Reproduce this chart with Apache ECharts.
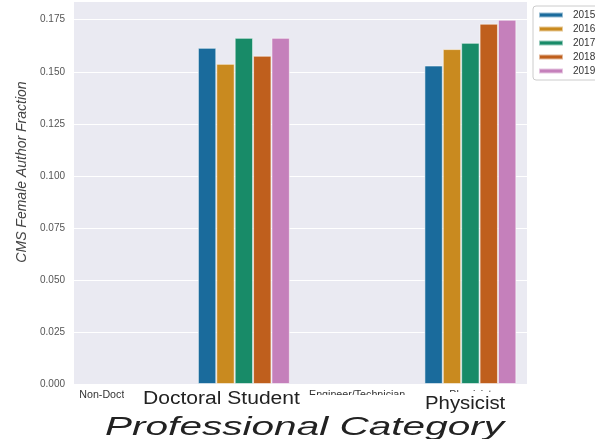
<!DOCTYPE html>
<html>
<head>
<meta charset="utf-8">
<script src="https://cdn.jsdelivr.net/npm/echarts@6/dist/echarts.min.js"></script>
<style>
  html, body { margin: 0; padding: 0; background: #fff; }
  #chart { width: 595px; height: 439px; }
</style>
</head>
<body>
<div id="chart"></div>
<script>
// Chart data
const categories = ['Non-Doctoral Student', 'Doctoral Student', 'Engineer/Technician', 'Physicist'];
const years = ['2015', '2016', '2017', '2018', '2019'];
const fraction2015 = [null, 0.1615, null, 0.1530];
const fraction2016 = [null, 0.1538, null, 0.1609];
const fraction2017 = [null, 0.1663, null, 0.1639];
const fraction2018 = [null, 0.1577, null, 0.1731];
const fraction2019 = [null, 0.1663, null, 0.1750];
const yTicks = [0, 0.025, 0.05, 0.075, 0.1, 0.125, 0.15, 0.175];
const yTitle = 'CMS Female Author Fraction';
const xTitle = 'Professional Category';

const colors = ['#1a6b9c', '#c98a1f', '#188b68', '#bf5f1d', '#c580bb'];
const seriesValues = [fraction2015, fraction2016, fraction2017, fraction2018, fraction2019];
const font = 'Liberation Sans, Arial, sans-serif';

const chart = echarts.init(document.getElementById('chart'));

const option = {
    animation: false,
    color: colors,
    grid: {
        left: 74,
        right: 68,
        top: 1,
        bottom: 55,
        show: true,
        backgroundColor: '#eaeaf2',
        borderWidth: 0
    },
    legend: {
        orient: 'vertical',
        left: 533,
        top: 6,
        padding: [4, 6, 4, 5],
        itemWidth: 24,
        itemHeight: 5,
        itemGap: 4,
        icon: 'rect',
        backgroundColor: '#fff',
        borderColor: '#cccccc',
        borderWidth: 1,
        borderRadius: 3,
        textStyle: { fontFamily: font, fontSize: 10, color: '#333', padding: [0, 0, 0, 5] },
        data: years
    },
    xAxis: {
        type: 'category',
        data: categories,
        axisLine: { show: false },
        axisTick: { show: false },
        axisLabel: { fontFamily: font, fontSize: 10.7, color: '#333', margin: 6, interval: 0 }
    },
    yAxis: {
        type: 'value',
        min: 0,
        max: 0.184,
        interval: 0.025,
        axisLine: { show: false },
        axisTick: { show: false },
        splitLine: { lineStyle: { color: '#ffffff', width: 1 } },
        axisLabel: {
            fontFamily: font,
            fontSize: 10,
            color: '#555',
            margin: 9,
            showMaxLabel: false,
            formatter: v => yTicks.some(t => Math.abs(t - v) < 1e-9) ? v.toFixed(3) : ''
        }
    },
    series: years.map((y, i) => ({
        name: y,
        type: 'bar',
        data: seriesValues[i],
        barGap: '0%',
        barCategoryGap: '18.8%',
        itemStyle: { borderColor: 'rgba(255,255,255,0.55)', borderWidth: 1 }
    })),
    graphic: [
        // white patches that cover the overlapped small tick labels
        { type: 'rect', shape: { x: 124, y: 386, width: 176, height: 28 }, style: { fill: '#fff' }, z: 10 },
        { type: 'rect', shape: { x: 300, y: 395, width: 120, height: 20 }, style: { fill: '#fff' }, z: 10 },
        { type: 'rect', shape: { x: 420, y: 392, width: 105, height: 22 }, style: { fill: '#fff' }, z: 10 },
        {
            type: 'text', x: 143, y: 390, scaleX: 1.17, z: 11,
            style: { x: 0, y: 0, text: categories[1], fontFamily: font, fontSize: 18, fill: '#222', textVerticalAlign: 'top' }
        },
        {
            type: 'text', x: 425, y: 395, scaleX: 1.13, z: 11,
            style: { x: 0, y: 0, text: categories[3], fontFamily: font, fontSize: 18, fill: '#222', textVerticalAlign: 'top' }
        },
        {
            type: 'text', x: 105, y: 415, scaleX: 1.56, z: 11,
            style: { x: 0, y: 0, text: xTitle, fontFamily: font, fontSize: 26, fontStyle: 'italic', fill: '#222', textVerticalAlign: 'top' }
        },
        {
            type: 'text', x: 22, y: 172, rotation: Math.PI / 2, z: 11,
            style: { x: 0, y: 0, text: yTitle, fontFamily: font, fontSize: 14, fontStyle: 'italic', fill: '#444', textAlign: 'center', textVerticalAlign: 'middle' }
        }
    ]
};

chart.setOption(option);
</script>
</body>
</html>
